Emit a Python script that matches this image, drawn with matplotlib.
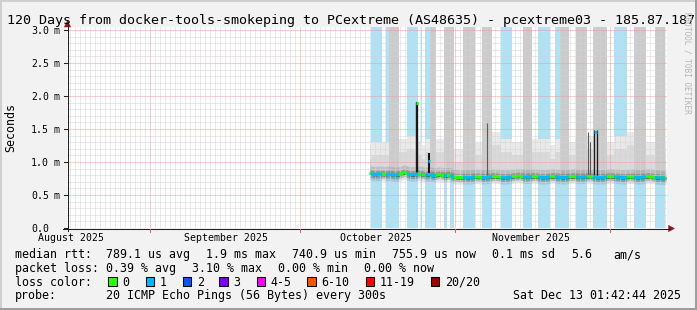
import numpy as np
import matplotlib
matplotlib.use("Agg")
import matplotlib.pyplot as plt
from matplotlib.patches import Rectangle, Polygon
from matplotlib.lines import Line2D
from matplotlib.transforms import Affine2D, blended_transform_factory, ScaledTranslation

W, H, DPI = 697, 310, 100

# ---------------- data ----------------
# x: days since graph start (2025-08-15 01:42:44), y: round trip time in ms
title = "120 Days from docker-tools-smokeping to PCextreme (AS48635) - pcextreme03 - 185.87.187"
month_labels = ["August 2025", "September 2025", "October 2025", "November 2025"]
month_label_days = [0.76, 31.8, 61.76, 92.76]
month_grid_days = [16.6, 46.6, 77.6, 108.6]
y_ticks = [0.0, 0.5, 1.0, 1.5, 2.0, 2.5, 3.0]

# measurement periods: start day, loss flag (1 = one lost ping), top of smoke (ms)
seg_start = [60.50, 60.74, 62.94, 63.80, 64.46, 66.46, 67.94, 70.26, 70.80, 71.00,
             71.66, 72.60, 73.74, 75.40, 76.06, 76.60, 77.46, 79.26, 81.60, 82.94,
             84.94, 86.74, 89.06, 91.14, 92.94, 94.26, 96.60, 97.60, 98.60, 100.30,
             101.74, 104.06, 105.26, 107.94, 109.46, 111.94, 113.46, 115.80, 117.60, 119.60]
seg_end = seg_start[1:] + [119.80]
seg_loss = [0, 1, 0, 1, 1, 0, 1, 0, 1, 0,
            1, 1, 0, 1, 0, 1, 0, 1, 0, 1,
            0, 1, 0, 1, 0, 1, 0, 1, 1, 0,
            1, 0, 1, 0, 1, 0, 1, 0, 1, 0]
seg_top = [1.25, 1.30, 1.30, 1.30, 3.20, 1.35, 1.40, 1.30, 1.30, 1.25,
           1.35, 3.20, 1.35, 3.20, 3.20, 3.20, 1.20, 3.20, 1.30, 3.20,
           1.45, 1.35, 1.30, 3.20, 1.35, 1.35, 1.25, 1.35, 3.20, 1.30,
           3.20, 1.40, 3.20, 1.30, 1.40, 1.45, 3.20, 1.30, 3.20, 1.20]

med_days = list(np.arange(60.5, 120.0, 1.0)) + [119.8]
med_vals = [0.83, 0.81, 0.82, 0.81, 0.82, 0.80, 0.81, 0.84, 0.81, 0.81,
            0.82, 0.80, 0.81, 0.79, 0.81, 0.79, 0.80, 0.77,
            0.76, 0.77, 0.765, 0.775, 0.77, 0.765, 0.775, 0.78, 0.77, 0.765,
            0.77, 0.78, 0.785, 0.77, 0.775, 0.78, 0.77, 0.765, 0.775, 0.78,
            0.77, 0.765, 0.775, 0.78, 0.77, 0.775, 0.78, 0.77, 0.765, 0.77,
            0.78, 0.775, 0.77, 0.765, 0.775, 0.77, 0.765, 0.775, 0.78, 0.765,
            0.76, 0.755, 0.756]

# isolated high-latency events
spike_x = [70.03, 72.33, 105.40, 105.90]
spike_base = [0.81, 0.80, 0.77, 0.77]
spike_top = [1.91, 1.13, 1.48, 1.48]
cap_x0 = [69.85, 72.15, 105.35]
cap_x1 = [70.22, 72.52, 105.95]
cap_y = [1.89, 1.01, 1.45]
cap_loss = [0, 1, 1]

streak_days = [84.06, 104.14, 104.60]
streak_base = [0.78, 0.78, 0.78]
streak_tops = [1.59, 1.45, 1.30]

loss_names = ["0", "1", "2", "3", "4-5", "6-10", "11-19", "20/20"]
loss_colors = ["#26ff00", "#00b8ff", "#0059ff", "#7e00ff", "#ff00ff", "#ff5500", "#ff0000", "#a10000"]

# ---------------- figure ----------------
fig = plt.figure(figsize=(W / DPI, H / DPI), dpi=DPI, facecolor="#f2f2f2")
PX = Affine2D().scale(1.0 / W, -1.0 / H).translate(0, 1) + fig.transFigure

ax = fig.add_axes([67 / W, (H - 228) / H, 600 / W, 201 / H])
ax.set_xlim(0, 120)
ax.set_ylim(0, 3.045)
ax.set_facecolor("white")
for s in ax.spines.values():
    s.set_visible(False)
ax.set_xticks([])
ax.set_yticks([])

starts = np.array(seg_start)
ends = np.array(seg_end)
widths = ends - starts
loss = np.array(seg_loss).astype(bool)
tops = np.array(seg_top)

# loss background
ax.bar(starts[loss], 3.045, width=widths[loss], align="edge", color="#abe3f8",
       linewidth=0, zorder=1, antialiased=False)
# upper smoke
gm = tops > 3.0
lm = ~gm
ax.bar(starts[gm], 3.045 - 0.8, bottom=0.8, width=widths[gm], align="edge",
       color="#cbcbcb", linewidth=0, zorder=2, antialiased=False)
ax.bar(starts[lm], tops[lm] - 0.8, bottom=0.8, width=widths[lm], align="edge",
       color="#e9e9e9", linewidth=0, zorder=2, antialiased=False)
ax.bar(starts[lm], tops[lm] - 1.0, bottom=0.8, width=widths[lm], align="edge",
       color="#d9d9d9", linewidth=0, zorder=2.1, antialiased=False)

md = np.array(med_days)
mv = np.array(med_vals)
for lo, hi, a in [(-0.10, -0.06, 0.10), (-0.06, -0.025, 0.28), (-0.025, 0.025, 0.70),
                  (0.025, 0.06, 0.30), (0.06, 0.12, 0.12)]:
    ax.fill_between(md, mv + lo, mv + hi, color="black", alpha=a, linewidth=0, zorder=2.5)

# grid (dotted, 1 px)
dot = (0, (1, 1))
minor_y = [v for v in np.arange(0.1, 3.01, 0.1) if abs(v / 0.5 - round(v / 0.5)) > 1e-6]
g1 = ax.hlines(minor_y, 0, 120, colors="#d4d4d4", linestyles=dot, linewidth=0.72, zorder=3)
minor_x = [d for d in np.arange(0.6, 120, 1.0) if min(abs(d - g) for g in month_grid_days) > 0.01]
g2 = ax.vlines(minor_x, 0, 3.045, colors="#d4d4d4", linestyles=dot, linewidth=0.72, zorder=3)
g3 = ax.hlines(y_ticks[1:], 0, 120, colors="#f29a9a", linestyles=dot, linewidth=0.72, zorder=3.1)
g4 = ax.vlines(month_grid_days, 0, 3.045, colors="#f29a9a", linestyles=dot, linewidth=0.72,
               zorder=3.1)
for g in (g1, g2, g3, g4):
    g.set_snap(True)

# streaks and spikes
ax.vlines(streak_days, streak_base, streak_tops, colors="#5a5a5a", linewidth=0.8, zorder=3.5)
ax.vlines(spike_x, spike_base, spike_top, colors="#1a1a1a",
          linewidth=[1.7, 1.5, 0.9, 0.9], zorder=4)

# median line: green where no loss, blue clipped to loss periods
ax.plot(md, mv, color=loss_colors[0], linewidth=2.2, zorder=5, solid_capstyle="butt")
for s, e, l in zip(seg_start, seg_end, seg_loss):
    if l:
        ln, = ax.plot(md, mv, color=loss_colors[1], linewidth=2.2, zorder=5.1,
                      solid_capstyle="butt")
        ln.set_clip_path(Rectangle((s, -1), e - s, 6, transform=ax.transData))
ax.hlines(cap_y, cap_x0, cap_x1, colors=[loss_colors[c] for c in cap_loss],
          linewidth=2.2, zorder=6)

# ---------------- axes, arrows ----------------
axis_col = "#222222"
arrow_col = "#8b1a1a"
fig.add_artist(Line2D([67.5, 67.5], [231, 25], transform=PX, color=axis_col, linewidth=0.75))
fig.add_artist(Line2D([63, 670], [228.5, 228.5], transform=PX, color=axis_col, linewidth=0.75))
fig.add_artist(Polygon([[64.3, 27], [70.7, 27], [67.5, 20.5]], closed=True, transform=PX,
                       facecolor=arrow_col, edgecolor=arrow_col, linewidth=0.3))
fig.add_artist(Polygon([[668.5, 225.3], [668.5, 231.7], [674.5, 228.5]], closed=True,
                       transform=PX, facecolor=arrow_col, edgecolor=arrow_col, linewidth=0.3))
ytr = blended_transform_factory(PX, ax.transData)
for v in y_ticks:
    fig.add_artist(Line2D([63.5, 67.5], [v, v], transform=ytr, color=axis_col, linewidth=0.75))
xtr = blended_transform_factory(ax.transData, PX)
for d in month_grid_days:
    fig.add_artist(Line2D([d, d], [228.5, 231.5], transform=xtr, color="#e06060", linewidth=0.75))

# ---------------- text ----------------
mono = "DejaVu Sans Mono"
fig.text(7.2, 24.3, title, transform=PX, fontsize=9.64, family=mono, va="baseline", ha="left")

off = ScaledTranslation(0, -0.036, fig.dpi_scale_trans)
for v in y_ticks:
    fig.text(48.9, v, f"{v:.1f}", transform=ytr + off, fontsize=7.1, family=mono,
             ha="right", va="baseline")
    if v > 0:
        fig.text(53.8, v, "m", transform=ytr + off, fontsize=7.1, family=mono,
                 ha="left", va="baseline")

for d, lab in zip(month_label_days, month_labels):
    fig.text(d, 240.7, lab, transform=xtr, fontsize=7.1, family=mono, ha="center", va="baseline")

fig.text(10.8, 128, "Seconds", transform=PX, fontsize=8.4, family=mono, rotation=90,
         ha="center", va="center")
fig.text(687.5, 12, "RRDTOOL / TOBI OETIKER", transform=PX, fontsize=5.6, family=mono,
         rotation=270, ha="center", va="top", color="#b4b4b4")

fs = 8.4
rows = [
    (258.3, [(16, "median rtt:"), (107.3, "789.1 us avg"), (207.3, "1.9 ms max"),
             (293.3, "740.9 us min"), (393.3, "755.9 us now"), (493.3, "0.1 ms sd"),
             (571.7, "5.6"), (614.3, "am/s")]),
    (271.7, [(16, "packet loss:"), (107.3, "0.39 % avg"), (193.3, "3.10 % max"),
             (279.3, "0.00 % min"), (365, "0.00 % now")]),
    (285.7, [(16, "loss color:")]),
    (299.0, [(16, "probe:"), (107.3, "20 ICMP Echo Pings (56 Bytes) every 300s")]),
]
for yb, items in rows:
    for x, s in items:
        fig.text(x - 0.8, yb, s, transform=PX, fontsize=fs, family=mono, ha="left", va="baseline")
fig.text(680.8, 299.0, "Sat Dec 13 01:42:44 2025", transform=PX, fontsize=fs, family=mono,
         ha="right", va="baseline")

box_x = [108.3, 145.7, 182.7, 219.3, 256.7, 307.3, 365.7, 430.7]
for bx, name, col in zip(box_x, loss_names, loss_colors):
    fig.add_artist(Rectangle((bx, 277.3), 8.6, 8.6, transform=PX, facecolor=col,
                             edgecolor="black", linewidth=0.75))
    fig.text(bx + 14.2, 285.7, name, transform=PX, fontsize=fs, family=mono,
             ha="left", va="baseline")

# frame
fig.add_artist(Rectangle((0, 0), W, 2, transform=PX, facecolor="#cfcfcf", linewidth=0))
fig.add_artist(Rectangle((0, 0), 2, H, transform=PX, facecolor="#cfcfcf", linewidth=0))
fig.add_artist(Rectangle((W - 2, 0), 2, H, transform=PX, facecolor="#9e9e9e", linewidth=0))
fig.add_artist(Rectangle((0, H - 2), W, 2, transform=PX, facecolor="#9e9e9e", linewidth=0))

fig.savefig("out.png", dpi=DPI, facecolor=fig.get_facecolor())
